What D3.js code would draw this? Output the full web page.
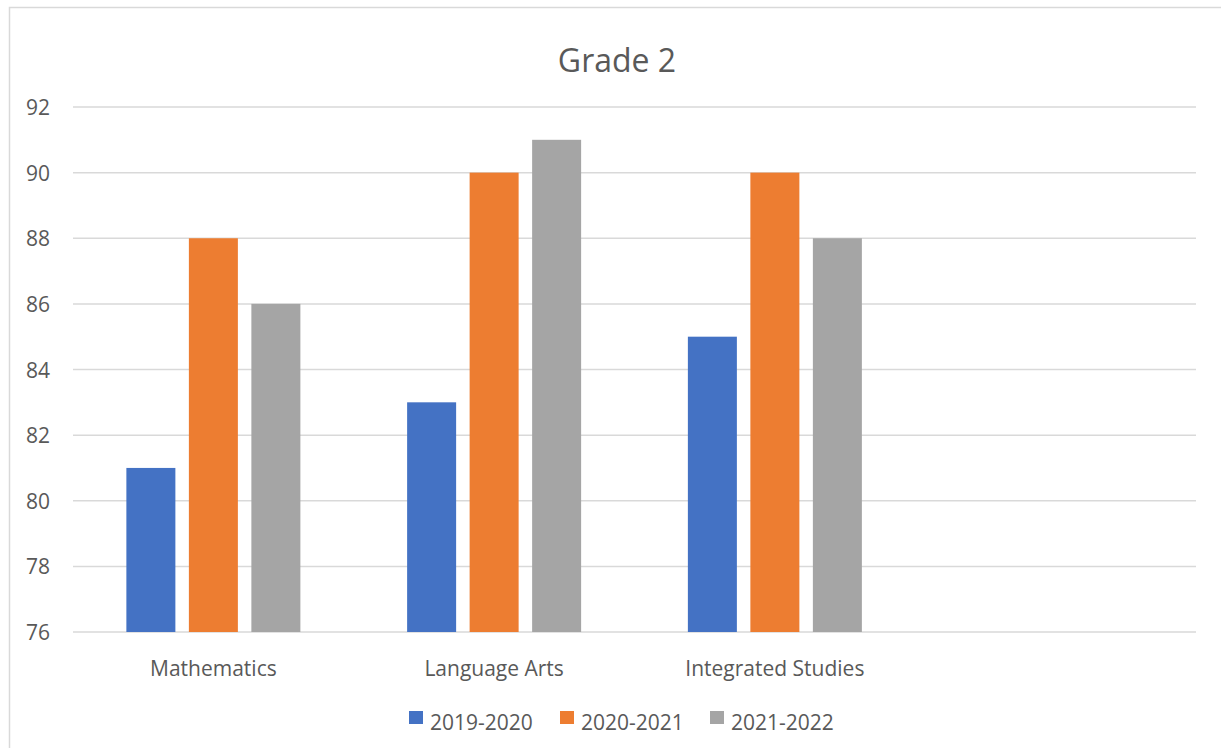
<!DOCTYPE html>
<html>
<head>
<meta charset="utf-8">
<script src="https://cdn.jsdelivr.net/npm/d3@7"></script>
<style>
  body { margin: 0; background: #fff; }
  text { font-family: "Open Sans", sans-serif; fill: #595959; }
</style>
</head>
<body>
<svg id="chart"></svg>
<script>
// data
let categories = ['Mathematics', 'Language Arts', 'Integrated Studies', '']
let seriesNames = ['2019-2020', '2020-2021', '2021-2022']
let seriesColors = ['#4472C4', '#ED7D31', '#A5A5A5']
let val2019 = [81, 83, 85, null]
let val2020 = [88, 90, 90, null]
let val2021 = [86, 91, 88, null]
let yTicks = [76, 78, 80, 82, 84, 86, 88, 90, 92]

let seriesVals = [val2019, val2020, val2021]

let W = 1221, H = 748
let svg = d3.select('#chart').attr('width', W).attr('height', H)

// frame of the chart (only left and top edges are in the picture)
svg.append('rect')
  .attr('x', 9.5).attr('y', 7.5)
  .attr('width', W + 20).attr('height', H + 20)
  .attr('fill', 'none')
  .attr('stroke', '#d9d9d9')
  .attr('stroke-width', 1.5)

let plot = {left: 73, right: 1196, top: 107, bottom: 632}

let x = d3.scaleBand()
  .domain(categories.map((d, i) => i))
  .range([plot.left, plot.right])

let y = d3.scaleLinear()
  .domain([76, 92])
  .range([plot.bottom, plot.top])

// gridlines
svg.append('g').selectAll('line').data(yTicks)
  .enter()
  .append('line')
  .attr('x1', plot.left).attr('x2', plot.right)
  .attr('y1', d => y(d)).attr('y2', d => y(d))
  .attr('stroke', '#d9d9d9')
  .attr('stroke-width', 1.5)

// y labels
svg.append('g').selectAll('text').data(yTicks)
  .enter()
  .append('text')
  .attr('x', 50)
  .attr('y', d => y(d))
  .attr('text-anchor', 'end')
  .attr('dominant-baseline', 'central')
  .attr('font-size', '21px')
  .text(d => d)

// bars
let barW = 49, gap = 13.5
let groupW = 3 * barW + 2 * gap
let bars = svg.append('g')
seriesVals.forEach((vals, s) => {
  bars.append('g').selectAll('rect')
    .data(vals.map((v, i) => ({v: v, i: i})).filter(d => d.v != null))
    .enter()
    .append('rect')
    .attr('x', d => x(d.i) + (x.bandwidth() - groupW) / 2 + s * (barW + gap))
    .attr('y', d => y(d.v))
    .attr('width', barW)
    .attr('height', d => y(76) - y(d.v))
    .attr('fill', seriesColors[s])
})

// category labels
svg.append('g').selectAll('text').data(categories)
  .enter()
  .append('text')
  .attr('x', (d, i) => x(i) + x.bandwidth() / 2)
  .attr('y', 676)
  .attr('text-anchor', 'middle')
  .attr('font-size', '21px')
  .text(d => d)

// title
svg.append('text')
  .attr('x', 617).attr('y', 72)
  .attr('text-anchor', 'middle')
  .attr('font-size', '32px')
  .text('Grade 2')

// legend
let legX = [409, 560, 710]
let leg = svg.append('g').selectAll('g').data(seriesNames)
  .enter()
  .append('g')
  .attr('transform', (d, i) => `translate(${legX[i]},711)`)
leg.append('rect')
  .attr('width', 14).attr('height', 13)
  .attr('fill', (d, i) => seriesColors[i])
leg.append('text')
  .attr('x', 21).attr('y', 19)
  .attr('font-size', '21px')
  .text(d => d)
</script>
</body>
</html>
